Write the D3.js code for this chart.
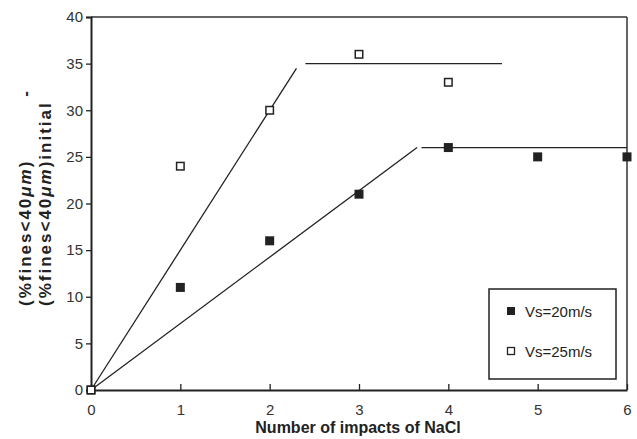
<!DOCTYPE html>
<html>
<head>
<meta charset="utf-8">
<script src="https://cdn.jsdelivr.net/npm/d3@7"></script>
<style>
  html, body { margin: 0; padding: 0; background: #fff; }
  svg { display: block; }
  text { font-family: "Liberation Sans", Arial, Helvetica, sans-serif; }
</style>
</head>
<body>
<svg id="chart" width="637" height="439"></svg>
<script>
// ---- data ----
const xTicks = [0, 1, 2, 3, 4, 5, 6];
const yTicks = [0, 5, 10, 15, 20, 25, 30, 35, 40];
const impacts20 = [0, 1, 2, 3, 4, 5, 6];
const fines20 = [0, 11, 16, 21, 26, 25, 25];
const impacts25 = [0, 1, 2, 3, 4];
const fines25 = [0, 24, 30, 36, 33];
// trend segments [x1, y1, x2, y2]
const trend20Rise = [0, 0, 3.65, 26];
const trend20Plateau = [3.7, 26, 6, 26];
const trend25Rise = [0, 0, 2.3, 34.5];
const trend25Plateau = [2.4, 35, 4.6, 35];
const seriesNames = ["Vs=20m/s", "Vs=25m/s"];

// ---- layout ----
const svg = d3.select("#chart");
const L = 91, R = 627, T = 17, B = 390;
const x = d3.scaleLinear().domain([0, 6]).range([L, R]);
const y = d3.scaleLinear().domain([0, 40]).range([B, T]);
const ink = "#222";

// frame top/right
svg.append("line").attr("x1", L).attr("x2", R).attr("y1", T).attr("y2", T)
  .attr("stroke", "#333").attr("stroke-width", 1.5);
svg.append("line").attr("x1", R).attr("x2", R).attr("y1", T).attr("y2", B)
  .attr("stroke", "#333").attr("stroke-width", 1.5);

// y axis
const yAxis = d3.axisLeft(y).tickValues(yTicks).tickSize(5).tickPadding(3).tickFormat(d3.format("d"));
const gy = svg.append("g").attr("transform", `translate(${L},0)`).call(yAxis);
gy.select(".domain").attr("stroke", ink).attr("stroke-width", 2);
gy.selectAll(".tick line").attr("stroke", ink).attr("stroke-width", 1.3);
gy.selectAll(".tick text").attr("font-size", 15).attr("fill", "#333")
  .attr("font-family", "Liberation Sans, Arial, sans-serif");

// x axis (ticks pointing inward)
const xAxis = d3.axisBottom(x).tickValues(xTicks).tickSizeInner(-6).tickSizeOuter(0).tickPadding(14).tickFormat(d3.format("d"));
const gx = svg.append("g").attr("transform", `translate(0,${B})`).call(xAxis);
gx.select(".domain").attr("stroke", ink).attr("stroke-width", 2.2);
gx.selectAll(".tick line").attr("stroke", ink).attr("stroke-width", 1.3);
gx.selectAll(".tick text").attr("font-size", 15).attr("fill", "#333")
  .attr("font-family", "Liberation Sans, Arial, sans-serif");

// trend lines
[trend20Rise, trend20Plateau, trend25Rise, trend25Plateau].forEach(s => {
  svg.append("line")
    .attr("x1", x(s[0])).attr("y1", y(s[1]))
    .attr("x2", x(s[2])).attr("y2", y(s[3]))
    .attr("stroke", ink).attr("stroke-width", 1.3);
});

const ms = 9;
// filled markers (Vs=20)
svg.append("g").selectAll("rect").data(impacts20.map((d, i) => [d, fines20[i]]))
  .join("rect")
  .attr("x", d => x(d[0]) - ms / 2).attr("y", d => y(d[1]) - ms / 2)
  .attr("width", ms).attr("height", ms)
  .attr("fill", ink);
// open markers (Vs=25)
svg.append("g").selectAll("rect").data(impacts25.map((d, i) => [d, fines25[i]]))
  .join("rect")
  .attr("x", d => x(d[0]) - (ms - 1.5) / 2).attr("y", d => y(d[1]) - (ms - 1.5) / 2)
  .attr("width", ms - 1.5).attr("height", ms - 1.5)
  .attr("fill", "#fff").attr("stroke", ink).attr("stroke-width", 1.5);

// legend
const lg = svg.append("g");
lg.append("rect").attr("x", 489).attr("y", 289).attr("width", 127).attr("height", 90)
  .attr("fill", "#fff").attr("stroke", ink).attr("stroke-width", 1.5);
lg.append("rect").attr("x", 507).attr("y", 307).attr("width", 8).attr("height", 8).attr("fill", ink);
lg.append("rect").attr("x", 507.5).attr("y", 347.5).attr("width", 7).attr("height", 7)
  .attr("fill", "#fff").attr("stroke", ink).attr("stroke-width", 1.3);
lg.append("text").attr("x", 525).attr("y", 317).attr("font-size", 15).attr("fill", "#222").text(seriesNames[0]);
lg.append("text").attr("x", 525).attr("y", 357).attr("font-size", 15).attr("fill", "#222").text(seriesNames[1]);

// x title
svg.append("text").attr("x", 358).attr("y", 433).attr("text-anchor", "middle")
  .attr("font-size", 16).attr("font-weight", "bold").attr("fill", "#222")
  .text("Number of impacts of NaCl");

// y title (two rotated lines)
function yLabel(cx, cy, suffix) {
  const t = svg.append("text")
    .attr("transform", `translate(${cx},${cy}) rotate(-90)`)
    .attr("font-size", 17).attr("font-weight", "bold").attr("fill", "#222")
    .attr("letter-spacing", 2.0);
  t.append("tspan").text("(%fines<40");
  t.append("tspan").attr("font-style", "italic").text("μm");
  t.append("tspan").text(")" + suffix);
  return t;
}
yLabel(31, 306, "");
yLabel(51, 306, "initial");
svg.append("text")
  .attr("transform", `translate(31,94) rotate(-90)`)
  .attr("text-anchor", "middle")
  .attr("font-size", 17).attr("font-weight", "bold").attr("fill", "#222")
  .text("-");
</script>
</body>
</html>
